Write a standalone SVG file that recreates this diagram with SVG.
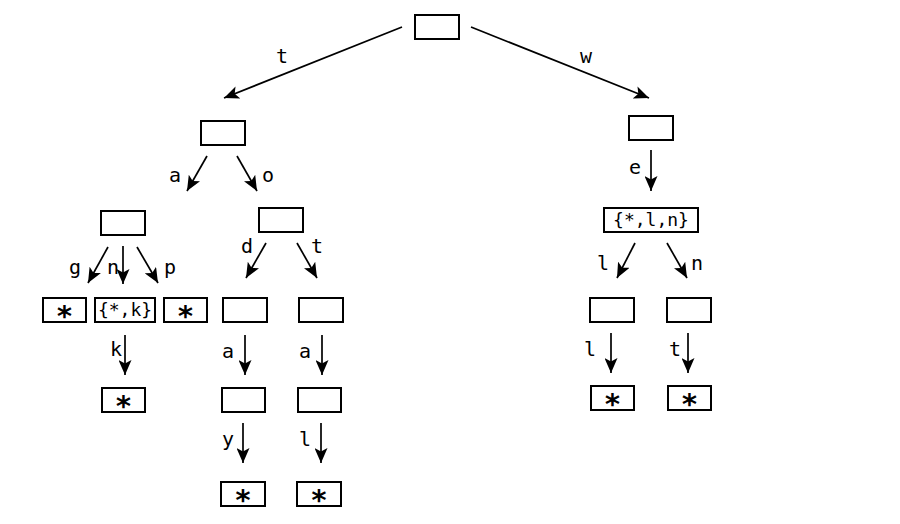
<svg xmlns="http://www.w3.org/2000/svg" width="900" height="524" viewBox="0 0 900 524">
<defs>
<marker id="ah" markerUnits="userSpaceOnUse" markerWidth="15" markerHeight="13" viewBox="0 0 15 13" refX="15" refY="6.5" orient="auto">
<path d="M0,0 L15,6.5 L0,13 L3.5,6.5 z" fill="#000"/>
</marker>
<style>
rect{fill:#fff;stroke:#000;stroke-width:2}
.c line{stroke:#000;stroke-width:1.7;marker-end:url(#ah)}
text{font-family:"DejaVu Sans Mono","Liberation Mono",monospace;font-size:18px;text-anchor:middle;fill:#000}
.c text{font-size:20px}
.s{font-size:29px;font-weight:bold}
</style>
</defs>
<rect x="0" y="0" width="900" height="524" style="fill:#fff;stroke:none"/>
<g class="c" id="connectors">
<line x1="402" y1="27" x2="224" y2="98"/>
<line x1="471" y1="27" x2="649" y2="98"/>
<line x1="207" y1="156" x2="187" y2="191"/>
<line x1="237" y1="156" x2="257" y2="191"/>
<line x1="651" y1="150" x2="651" y2="191"/>
<line x1="108" y1="247" x2="88" y2="283"/>
<line x1="123" y1="246" x2="123" y2="284"/>
<line x1="137" y1="247" x2="158" y2="283"/>
<line x1="266" y1="243" x2="246" y2="278"/>
<line x1="297" y1="243" x2="317" y2="278"/>
<line x1="125" y1="335" x2="125" y2="375"/>
<line x1="245" y1="335" x2="245" y2="375"/>
<line x1="322" y1="335" x2="322" y2="375"/>
<line x1="243" y1="423" x2="243" y2="463"/>
<line x1="321" y1="423" x2="321" y2="463"/>
<line x1="635" y1="243" x2="617" y2="278"/>
<line x1="667" y1="243" x2="687" y2="278"/>
<line x1="611" y1="333" x2="611" y2="373"/>
<line x1="688" y1="333" x2="688" y2="373"/>
<text x="282" y="63">t</text>
<text x="586" y="63">w</text>
<text x="175" y="182">a</text>
<text x="268" y="182">o</text>
<text x="635" y="174">e</text>
<text x="75" y="274">g</text>
<text x="113" y="274">n</text>
<text x="170" y="274">p</text>
<text x="247" y="253">d</text>
<text x="317" y="253">t</text>
<text x="116" y="356">k</text>
<text x="228" y="358">a</text>
<text x="305" y="358">a</text>
<text x="228" y="446">y</text>
<text x="305" y="446">l</text>
<text x="603" y="270">l</text>
<text x="697" y="270">n</text>
<text x="590" y="356">l</text>
<text x="675" y="356">t</text>
</g>
<g id="root"><rect x="415" y="15" width="44" height="24"/></g>
<g id="n_t"><rect x="201" y="121" width="44" height="24"/></g>
<g id="n_w"><rect x="629" y="116" width="44" height="24"/></g>
<g id="n_ta"><rect x="101" y="211" width="44" height="24"/></g>
<g id="n_to"><rect x="259" y="208" width="44" height="24"/></g>
<g id="n_we"><rect x="604" y="208" width="94" height="24"/><text x="651" y="226">{*,l,n}</text></g>
<g id="n_tag"><rect x="43" y="298" width="43" height="24"/><text class="s" x="64.5" y="326">*</text></g>
<g id="n_tan"><rect x="95" y="298" width="60" height="24"/><text x="125" y="316">{*,k}</text></g>
<g id="n_tap"><rect x="164" y="298" width="43" height="24"/><text class="s" x="185.5" y="326">*</text></g>
<g id="n_tod"><rect x="223" y="298" width="44" height="24"/></g>
<g id="n_tot"><rect x="299" y="298" width="44" height="24"/></g>
<g id="n_wel"><rect x="590" y="298" width="44" height="24"/></g>
<g id="n_wen"><rect x="667" y="298" width="44" height="24"/></g>
<g id="n_tank"><rect x="102" y="388" width="43" height="24"/><text class="s" x="123.5" y="416">*</text></g>
<g id="n_toda"><rect x="222" y="388" width="43" height="24"/></g>
<g id="n_tota"><rect x="298" y="388" width="43" height="24"/></g>
<g id="n_well"><rect x="591" y="386" width="43" height="24"/><text class="s" x="612.5" y="414">*</text></g>
<g id="n_went"><rect x="668" y="386" width="43" height="24"/><text class="s" x="689.5" y="414">*</text></g>
<g id="n_today"><rect x="221" y="482" width="44" height="24"/><text class="s" x="243" y="510">*</text></g>
<g id="n_total"><rect x="297" y="482" width="44" height="24"/><text class="s" x="319" y="510">*</text></g>
</svg>
